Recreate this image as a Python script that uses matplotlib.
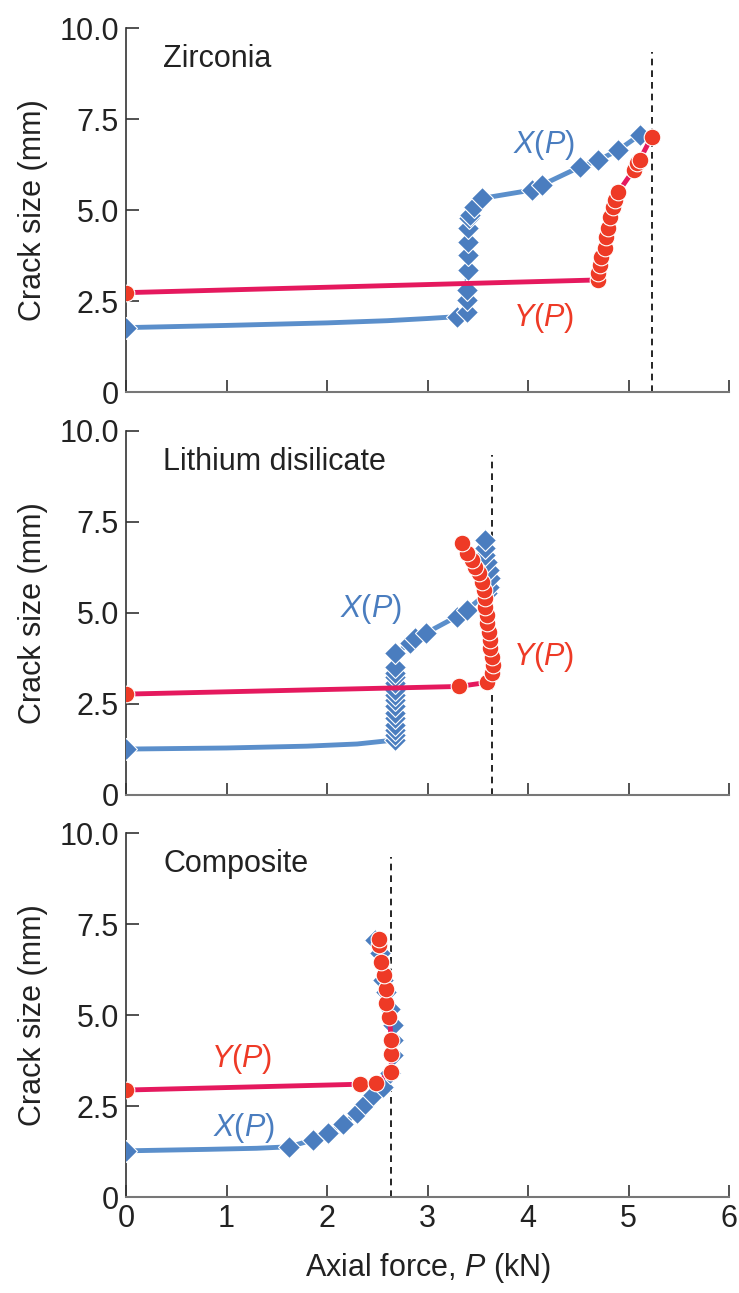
import matplotlib
matplotlib.use("Agg")
import matplotlib.pyplot as plt

plt.rcParams['font.family'] = ['Liberation Sans', 'DejaVu Sans']
plt.rcParams['mathtext.fontset'] = 'custom'
plt.rcParams['mathtext.rm'] = 'Liberation Sans'
plt.rcParams['mathtext.it'] = 'Liberation Sans:italic'

BLUE_MK = '#4A7DBF'
BLUE_LN = '#5B8FCB'
RED_MK = '#EE3A26'
RED_LN = '#E5195E'

# Zirconia
zr_x_P = [0.00, 1.00, 2.00, 2.60, 3.00, 3.29, 3.39, 3.39, 3.39, 3.40, 3.40, 3.40, 3.40, 3.41, 3.42,
          3.46, 3.54, 4.04, 4.14, 4.52, 4.70, 4.90, 5.11]
zr_x_a = [1.77, 1.83, 1.90, 1.96, 2.02, 2.07, 2.21, 2.53, 2.80, 3.35, 3.76, 4.13, 4.51, 4.78, 4.86,
          5.09, 5.32, 5.55, 5.69, 6.19, 6.37, 6.65, 7.06]
zr_x_marks = [0] + list(range(5, 23))
zr_y_P = [0.00, 4.70, 4.70, 4.72, 4.73, 4.77, 4.78, 4.80, 4.82, 4.85, 4.87, 4.90, 5.05, 5.08, 5.11, 5.23]
zr_y_a = [2.73, 3.08, 3.26, 3.49, 3.72, 3.95, 4.27, 4.50, 4.82, 5.09, 5.27, 5.50, 6.10, 6.28, 6.37, 7.01]
zr_pmax = 5.23

# Lithium disilicate
ld_x_P = [0.00, 1.00, 1.80, 2.30, 2.68, 2.68, 2.68, 2.68, 2.68, 2.68, 2.68, 2.68, 2.68, 2.68, 2.68,
          2.68, 2.68, 2.68, 2.68, 2.83, 2.88, 2.98, 3.29, 3.39, 3.59, 3.61, 3.62, 3.61, 3.59,
          3.57, 3.57, 3.57]
ld_x_a = [1.26, 1.29, 1.34, 1.40, 1.51, 1.65, 1.79, 1.92, 2.11, 2.24, 2.43, 2.61, 2.75, 2.88, 3.07,
          3.25, 3.34, 3.52, 3.89, 4.17, 4.30, 4.44, 4.90, 5.08, 5.54, 5.72, 5.95, 6.18, 6.41,
          6.59, 6.78, 7.00]
ld_x_marks = [0] + list(range(4, 32))
ld_y_P = [0.00, 3.31, 3.59, 3.64, 3.65, 3.64, 3.62, 3.62, 3.61, 3.59, 3.59, 3.57, 3.57, 3.56,
          3.54, 3.51, 3.47, 3.44, 3.39, 3.34]
ld_y_a = [2.77, 2.98, 3.09, 3.34, 3.57, 3.80, 4.03, 4.26, 4.49, 4.72, 4.95, 5.17, 5.40, 5.63,
          5.86, 6.09, 6.27, 6.46, 6.64, 6.91]
ld_pmax = 3.64

# Composite
cp_x_P = [0.00, 0.80, 1.30, 1.62, 1.86, 2.01, 2.16, 2.30, 2.38, 2.46, 2.56, 2.63, 2.66, 2.66, 2.66,
          2.63, 2.59, 2.56, 2.53, 2.48]
cp_x_a = [1.27, 1.31, 1.34, 1.38, 1.57, 1.75, 2.02, 2.30, 2.57, 2.80, 3.03, 3.40, 3.90, 4.31, 4.72,
          5.18, 5.64, 5.96, 6.70, 7.06]
cp_x_marks = [0] + list(range(3, 20))
cp_y_P = [0.00, 2.33, 2.49, 2.64, 2.64, 2.64, 2.62, 2.59, 2.59, 2.57, 2.54, 2.52, 2.52]
cp_y_a = [2.94, 3.10, 3.14, 3.44, 3.94, 4.31, 4.95, 5.32, 5.71, 6.10, 6.46, 6.93, 7.08]
cp_pmax = 2.64

panels = [
    ("Zirconia", zr_x_P, zr_x_a, zr_x_marks, zr_y_P, zr_y_a, zr_pmax,
     (3.85, 6.79), (3.85, 2.03)),
    ("Lithium disilicate", ld_x_P, ld_x_a, ld_x_marks, ld_y_P, ld_y_a, ld_pmax,
     (2.13, 5.11), (3.85, 3.79)),
    ("Composite", cp_x_P, cp_x_a, cp_x_marks, cp_y_P, cp_y_a, cp_pmax,
     (0.87, 1.91), (0.85, 3.79)),
]

fig = plt.figure(figsize=(7.39, 12.93), dpi=100)
bottoms = [0.6968, 0.3852, 0.0742]
FS = 22

for i, (name, xP, xa, xm, yP, ya, pmax, xlab, ylab) in enumerate(panels):
    ax = fig.add_axes([0.1705, bottoms[i], 0.816, 0.2815])
    ax.plot(xP, xa, color=BLUE_LN, lw=3.5, marker='D', markevery=xm, ms=11,
            mfc=BLUE_MK, mec='white', mew=0.8, zorder=3)
    ax.plot(yP, ya, color=RED_LN, lw=3.5, marker='o', ms=12,
            mfc=RED_MK, mec='white', mew=0.8, zorder=4)
    ax.plot([pmax, pmax], [0, 9.34], color='black', ls=(0, (4, 3)), lw=1.2, zorder=2)
    ax.text(0.37, 9.15, name, fontsize=FS, ha='left', va='center', color='#222222')
    ax.text(xlab[0], xlab[1], '$X$($P$)', fontsize=FS, color=BLUE_MK, ha='left', va='center')
    ax.text(ylab[0], ylab[1], '$Y$($P$)', fontsize=FS, color=RED_MK, ha='left', va='center')

    ax.set_xlim(0, 6)
    ax.set_ylim(0, 10)
    ax.set_yticks([0, 2.5, 5.0, 7.5, 10.0])
    ax.set_yticklabels(['0', '2.5', '5.0', '7.5', '10.0'])
    ax.set_xticks(range(7))
    ax.tick_params(direction='in', length=9, width=1.2, labelsize=FS, colors='#333333',
                   labelcolor='#222222', pad=5)
    for s in ['top', 'right']:
        ax.spines[s].set_visible(False)
    ax.spines['left'].set_color('#333333')
    ax.spines['bottom'].set_color('#777777')
    ax.spines['left'].set_linewidth(1.2)
    ax.spines['bottom'].set_linewidth(1.5)
    ax.set_ylabel('Crack size (mm)', fontsize=FS, color='#222222', labelpad=8)
    ax.patch.set_alpha(0)
    if i < 2:
        ax.tick_params(labelbottom=False)
    else:
        ax.set_xlabel('Axial force, $P$ (kN)', fontsize=FS, color='#222222', labelpad=12)
    for lbl in ax.get_xticklabels() + ax.get_yticklabels():
        lbl.set_clip_on(False)

fig.savefig("out.png", dpi=100)
